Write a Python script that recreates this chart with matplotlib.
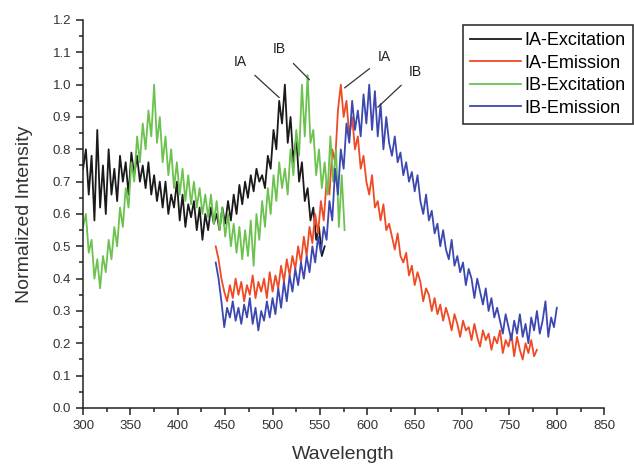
import numpy as np
import matplotlib.pyplot as plt
from matplotlib.ticker import MultipleLocator

plt.rcParams['font.family'] = ['Liberation Sans', 'DejaVu Sans']

# sampling grid of the spectra (nm)
step = 3
ia_ex_start = 300
ib_ex_start = 300
ia_em_start = 440
ib_em_start = 440

ia_ex = [0.74, 0.80, 0.66, 0.78, 0.58, 0.86, 0.62, 0.75, 0.60, 0.80,
         0.66, 0.74, 0.64, 0.78, 0.70, 0.76, 0.66, 0.79, 0.72, 0.78,
         0.70, 0.75, 0.68, 0.76, 0.66, 0.72, 0.64, 0.70, 0.62, 0.70,
         0.60, 0.66, 0.62, 0.70, 0.58, 0.66, 0.56, 0.63, 0.59, 0.64,
         0.55, 0.62, 0.52, 0.60, 0.55, 0.62, 0.57, 0.60, 0.55, 0.62,
         0.57, 0.64, 0.58, 0.66, 0.60, 0.69, 0.63, 0.70, 0.65, 0.72,
         0.67, 0.74, 0.70, 0.72, 0.68, 0.78, 0.74, 0.86, 0.80, 0.95,
         0.88, 1.00, 0.82, 0.90, 0.76, 0.84, 0.70, 0.76, 0.64, 0.68,
         0.58, 0.62, 0.52, 0.56, 0.47, 0.50]

ib_ex = [0.56, 0.60, 0.48, 0.52, 0.40, 0.46, 0.37, 0.47, 0.42, 0.52,
         0.46, 0.56, 0.50, 0.62, 0.56, 0.68, 0.62, 0.76, 0.70, 0.84,
         0.76, 0.88, 0.80, 0.92, 0.84, 1.00, 0.82, 0.90, 0.76, 0.84,
         0.72, 0.80, 0.68, 0.76, 0.66, 0.74, 0.64, 0.72, 0.63, 0.70,
         0.62, 0.68, 0.60, 0.66, 0.59, 0.66, 0.57, 0.64, 0.55, 0.62,
         0.53, 0.60, 0.50, 0.57, 0.48, 0.56, 0.46, 0.55, 0.47, 0.58,
         0.44, 0.60, 0.52, 0.64, 0.56, 0.68, 0.60, 0.72, 0.64, 0.76,
         0.68, 0.74, 0.66, 0.80, 0.72, 0.86, 0.78, 1.00, 0.84, 1.03,
         0.82, 0.86, 0.72, 0.80, 0.68, 0.76, 0.66, 0.84, 0.70, 0.80,
         0.56, 0.72, 0.55]

ia_em = [0.50, 0.46, 0.40, 0.36, 0.33, 0.38, 0.34, 0.40, 0.35, 0.39,
         0.33, 0.38, 0.35, 0.41, 0.34, 0.39, 0.36, 0.40, 0.34, 0.42,
         0.36, 0.41, 0.37, 0.44, 0.39, 0.46, 0.41, 0.47, 0.43, 0.50,
         0.45, 0.53, 0.47, 0.56, 0.51, 0.60, 0.54, 0.64, 0.58, 0.70,
         0.66, 0.80, 0.76, 0.92, 1.00, 0.90, 0.95, 0.84, 0.90, 0.80,
         0.84, 0.74, 0.78, 0.70, 0.66, 0.72, 0.62, 0.64, 0.58, 0.63,
         0.55, 0.57, 0.53, 0.49, 0.54, 0.47, 0.45, 0.48, 0.41, 0.44,
         0.38, 0.42, 0.39, 0.33, 0.37, 0.35, 0.30, 0.34, 0.29, 0.32,
         0.27, 0.31, 0.28, 0.24, 0.29, 0.26, 0.22, 0.27, 0.24, 0.25,
         0.21, 0.26, 0.22, 0.19, 0.24, 0.21, 0.23, 0.18, 0.22, 0.20,
         0.24, 0.17, 0.21, 0.19, 0.23, 0.16, 0.22, 0.18, 0.15, 0.20,
         0.17, 0.21, 0.16, 0.18]

ib_em = [0.45, 0.40, 0.33, 0.25, 0.31, 0.28, 0.33, 0.27, 0.31, 0.26,
         0.32, 0.28, 0.34, 0.26, 0.31, 0.24, 0.30, 0.27, 0.33, 0.28,
         0.34, 0.29, 0.37, 0.31, 0.39, 0.33, 0.41, 0.36, 0.43, 0.38,
         0.45, 0.40, 0.47, 0.42, 0.50, 0.45, 0.53, 0.48, 0.56, 0.52,
         0.64, 0.58, 0.74, 0.66, 0.80, 0.74, 0.88, 0.82, 0.95, 0.86,
         0.92, 0.84, 0.97, 0.88, 1.00, 0.86, 0.98, 0.84, 0.94, 0.80,
         0.90, 0.82, 0.78, 0.84, 0.76, 0.79, 0.72, 0.76, 0.70, 0.73,
         0.67, 0.72, 0.64, 0.60, 0.66, 0.58, 0.61, 0.54, 0.57, 0.50,
         0.55, 0.49, 0.46, 0.52, 0.44, 0.47, 0.42, 0.45, 0.38, 0.43,
         0.40, 0.34, 0.40, 0.36, 0.32, 0.37, 0.30, 0.34, 0.28, 0.31,
         0.27, 0.23, 0.29, 0.25, 0.21, 0.27, 0.23, 0.29, 0.22, 0.26,
         0.20, 0.28, 0.24, 0.30, 0.23, 0.27, 0.33, 0.22, 0.28, 0.25,
         0.31]

labels = ['IA-Excitation', 'IA-Emission', 'IB-Excitation', 'IB-Emission']
colors = ['#1a1a1a', '#ee4a24', '#6cc24e', '#3c48b0']

# peak labels: text, text position, arrow tip
peak_notes = [('IA', (466, 1.07), (507, 0.96)),
              ('IB', (507, 1.11), (539, 1.015)),
              ('IA', (618, 1.085), (576, 0.99)),
              ('IB', (651, 1.04), (611, 0.93))]


def grid(start, vals):
    return start + step * np.arange(len(vals))


fig = plt.figure(figsize=(6.34, 4.65), dpi=100)
ax = fig.add_axes([0.131, 0.1226, 0.822, 0.8344])

series = [(ia_ex_start, ia_ex), (ia_em_start, ia_em),
          (ib_ex_start, ib_ex), (ib_em_start, ib_em)]
for (start, vals), lab, col in zip(series, labels, colors):
    ax.plot(grid(start, vals), vals, color=col, lw=1.3, label=lab)

for txt, pos, tip in peak_notes:
    ax.annotate(txt, xy=tip, xytext=pos, fontsize=10, color='#222222',
                ha='center', va='center',
                arrowprops=dict(arrowstyle='-', color='#333333', lw=0.9,
                                shrinkA=5, shrinkB=0))

ax.set_xlim(300, 850)
ax.set_ylim(0, 1.2)
ax.xaxis.set_major_locator(MultipleLocator(50))
ax.xaxis.set_minor_locator(MultipleLocator(25))
ax.yaxis.set_major_locator(MultipleLocator(0.1))
ax.yaxis.set_minor_locator(MultipleLocator(0.05))
ax.yaxis.set_major_formatter(plt.FormatStrFormatter('%.1f'))
ax.spines['top'].set_visible(False)
ax.spines['right'].set_visible(False)
for s in ['left', 'bottom']:
    ax.spines[s].set_color('#222222')
    ax.spines[s].set_linewidth(1.1)
ax.tick_params(which='major', direction='out', length=5, width=1.1,
               labelsize=9.5, labelcolor='#333333', color='#222222')
ax.tick_params(which='minor', direction='out', length=3, width=1.1,
               color='#222222')
ax.set_xlabel('Wavelength', fontsize=14, color='#333333', labelpad=10)
ax.set_ylabel('Normalized Intensity', fontsize=14, color='#333333',
              labelpad=14)

leg = fig.legend(loc='upper right', bbox_to_anchor=(0.998, 0.946),
                 borderaxespad=0, fontsize=13, frameon=True, fancybox=False,
                 handlelength=2.8, handletextpad=0.2, borderpad=0.4,
                 labelspacing=0.3)
leg.get_frame().set_edgecolor('black')
leg.get_frame().set_linewidth(1.2)

fig.savefig('out.png', dpi=100)
